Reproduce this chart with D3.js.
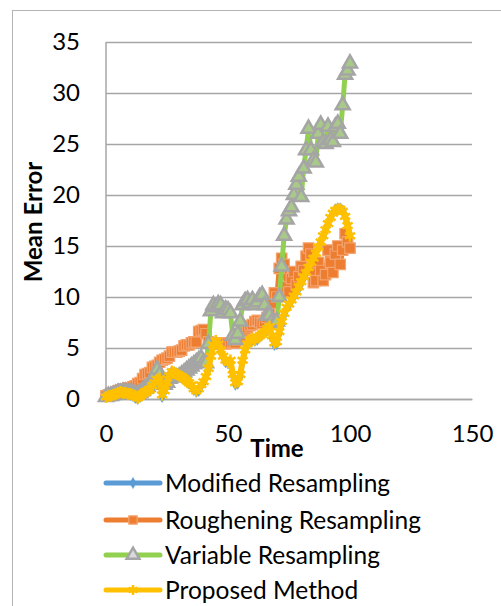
<!DOCTYPE html>
<html>
<head>
<meta charset="utf-8">
<script src="https://cdn.jsdelivr.net/npm/d3@7"></script>
<style>
  html, body { margin: 0; padding: 0; background: #fff; }
  svg { display: block; }
  text { font-family: Lato, "Open Sans", sans-serif; fill: #000; }
</style>
</head>
<body>
<svg id="chart" width="501" height="606"></svg>
<script>
// Sampling instants (time steps 0..100)
const time = d3.range(0, 101);

const seriesNames = ["Modified Resampling", "Roughening Resampling", "Variable Resampling", "Proposed Method"];

const modifiedResampling = [
  0.2,0.3,0.3,0.4,0.5,0.5,0.6,0.6,0.5,0.5,0.4,
  0.3,0.1,0.0,0.2,0.4,0.6,0.7,0.8,1.2,1.5,
  1.8,1.9,0.2,0.7,1.5,2.2,2.6,2.5,2.3,2.2,
  2.1,1.9,1.7,1.5,1.3,0.9,0.7,0.8,1.3,1.6,
  2.1,2.9,4.1,5.2,5.6,5.3,4.6,4.1,3.6,3.5,
  3.6,2.3,1.4,1.5,2.2,3.6,4.7,5.3,5.6,5.8,
  5.7,5.8,6.1,6.3,6.5,6.7,7.0,6.0,5.3,5.4,
  6.4,7.4,8.2,8.8,9.2,9.6,10.0,10.4,10.8,11.3,
  11.8,12.3,12.8,13.3,13.7,14.2,14.8,15.3,15.9,16.5,
  17.1,17.7,18.2,18.6,18.7,18.7,18.5,18.0,17.1,16.1
];

const rougheningResampling = [
  0.3,0.4,0.5,0.6,0.7,0.8,0.9,1.0,1.0,1.1,1.1,
  1.2,1.3,1.5,1.6,2.0,2.4,2.5,2.6,3.1,3.2,
  3.3,3.6,3.8,3.9,4.0,4.2,4.6,4.6,4.6,4.7,
  4.8,5.2,5.3,5.3,5.5,5.6,5.6,6.6,6.7,6.8,
  6.4,5.6,5.4,5.5,5.5,5.4,5.5,5.5,5.4,5.5,
  5.5,5.6,5.5,5.8,6.2,6.6,6.8,7.0,7.2,7.3,
  7.6,7.7,7.5,7.4,7.6,8.0,8.4,9.4,10.4,10.0,
  12.8,13.8,13.2,11.0,10.5,11.8,12.5,11.2,12.0,13.0,
  12.6,14.0,14.8,14.2,11.4,11.6,13.4,12.6,11.6,12.2,
  14.6,13.4,12.4,14.2,15.0,13.2,14.6,16.2,15.4,14.8
];

const variableResampling = [
  0.2,0.3,0.3,0.4,0.5,0.6,0.6,0.7,0.7,0.6,0.6,
  0.5,0.5,0.5,0.6,0.8,1.0,1.2,1.5,1.8,2.4,
  2.9,2.4,1.8,1.4,1.6,2.0,2.3,2.2,2.1,2.2,
  2.4,2.6,2.8,3.0,3.2,3.4,3.6,3.8,4.0,3.6,
  3.5,5.4,8.6,9.2,9.0,9.3,9.2,8.4,8.8,8.7,
  8.4,6.2,5.8,6.4,7.6,9.2,9.6,9.7,9.4,9.7,
  9.2,9.5,10.0,10.2,9.2,8.2,8.2,7.6,7.4,7.6,
  10.0,13.0,16.0,17.6,18.4,18.8,20.0,21.0,21.8,19.8,
  22.6,24.4,26.5,24.4,23.4,23.2,26.0,26.9,25.2,25.0,
  26.7,25.4,25.2,26.7,27.0,26.0,28.8,31.8,32.2,32.9
];

const proposedMethod = [
  0.2,0.3,0.3,0.4,0.5,0.6,0.7,0.6,0.6,0.5,0.5,
  0.4,0.3,0.1,0.3,0.5,0.7,0.8,0.9,1.3,1.6,
  1.9,2.0,0.4,0.8,1.6,2.3,2.7,2.6,2.4,2.3,
  2.2,2.0,1.8,1.6,1.4,1.0,0.8,1.0,1.4,1.7,
  2.2,3.0,4.2,5.3,5.7,5.4,4.8,4.2,3.8,3.6,
  3.8,2.4,1.6,1.7,2.4,3.8,4.8,5.4,5.8,5.9,
  5.8,6.0,6.2,6.4,6.6,6.9,7.1,6.2,5.5,5.6,
  6.6,7.6,8.4,9.0,9.3,9.7,10.1,10.5,11.0,11.5,
  12.0,12.4,12.9,13.4,13.8,14.3,14.9,15.4,16.0,16.6,
  17.2,17.8,18.2,18.5,18.6,18.6,18.4,17.9,17.0,16.0
];

const xTicks = [0, 50, 100, 150];
const yTicks = [0, 5, 10, 15, 20, 25, 30, 35];
const xTitle = "Time";
const yTitle = "Mean Error";

const svg = d3.select("#chart");

// Chart area frame
svg.append("rect")
  .attr("x", 12.5).attr("y", 10.5)
  .attr("width", 520).attr("height", 620)
  .attr("fill", "#fff").attr("stroke", "#b3b3b3").attr("stroke-width", 1);

const x = d3.scaleLinear().domain([0, 150]).range([106, 472]);
const y = d3.scaleLinear().domain([0, 35]).range([399, 42]);

// Horizontal gridlines + value labels
const yAxis = svg.append("g")
  .attr("transform", `translate(${x(0)},0)`)
  .call(d3.axisLeft(y).tickValues(yTicks).tickSize(-(x(150) - x(0))).tickPadding(26).tickFormat(d3.format("d")));
yAxis.select(".domain").attr("stroke", "#a6a6a6").attr("stroke-width", 1.5).attr("d", `M0,${y(35)}V${y(0)}`);
yAxis.selectAll(".tick line").attr("stroke", "#a6a6a6").attr("stroke-width", 1.5);
yAxis.selectAll(".tick text").attr("font-size", 24).attr("font-family", "Lato");

// Time labels
const xAxis = svg.append("g")
  .attr("transform", `translate(0,${y(0)})`)
  .call(d3.axisBottom(x).tickValues(xTicks).tickSize(0).tickPadding(26).tickFormat(d3.format("d")));
xAxis.select(".domain").attr("stroke", "#a6a6a6").attr("stroke-width", 1.5);
xAxis.selectAll(".tick text").attr("font-size", 24).attr("font-family", "Lato");

// Axis titles
svg.append("text")
  .attr("x", 277).attr("y", 457)
  .attr("text-anchor", "middle")
  .attr("font-size", 24).attr("font-weight", "bold")
  .text(xTitle);

svg.append("text")
  .attr("transform", "translate(42,222) rotate(-90)")
  .attr("text-anchor", "middle")
  .attr("font-size", 24).attr("font-weight", "bold")
  .text(yTitle);

const asterisk = d3.symbolAsterisk || d3.symbolCross;

const styles = [
  { values: modifiedResampling,   line: "#5B9BD5", width: 5, symbol: d3.symbolDiamond,  size: 36,  fill: "#5B9BD5", stroke: "#5B9BD5", sw: 0.5 },
  { values: rougheningResampling, line: "#ED7D31", width: 5, symbol: d3.symbolSquare,   size: 110, fill: "#ED7D31", stroke: "#F4A46E", sw: 1.2 },
  { values: variableResampling,   line: "#92D050", width: 5, symbol: d3.symbolTriangle, size: 85,  fill: "#A9C98A", stroke: "#A5A5A5", sw: 2.5 },
  { values: proposedMethod,       line: "#FFC000", width: 6, symbol: asterisk,          size: 95,  fill: "none",    stroke: "#FFC000", sw: 2.5 }
];

const line = d3.line().x((d, i) => x(time[i])).y(d => y(d));

styles.forEach((s, k) => {
  const g = svg.append("g").attr("class", "series s" + k);
  g.append("path")
    .attr("d", line(s.values))
    .attr("fill", "none")
    .attr("stroke", s.line)
    .attr("stroke-width", s.width)
    .attr("stroke-linejoin", "round")
    .attr("stroke-linecap", "round");
  g.selectAll("path.m")
    .data(s.values)
    .join("path")
    .attr("class", "m")
    .attr("transform", (d, i) => `translate(${x(time[i])},${y(d)})`)
    .attr("d", d3.symbol().type(s.symbol).size(s.size))
    .attr("fill", s.fill)
    .attr("stroke", s.stroke)
    .attr("stroke-width", s.sw);
});

// Legend
const legend = svg.append("g");
const legendRows = [483, 520, 555, 590];
styles.forEach((s, k) => {
  const row = legend.append("g").attr("transform", `translate(0,${legendRows[k]})`);
  row.append("line")
    .attr("x1", 106).attr("x2", 160).attr("y1", 0).attr("y2", 0)
    .attr("stroke", s.line).attr("stroke-width", 5).attr("stroke-linecap", "round");
  row.append("path")
    .attr("transform", "translate(133,0)")
    .attr("d", d3.symbol().type(s.symbol).size(Math.min(s.size, 70)))
    .attr("fill", k === 2 ? "#d9d9d9" : s.fill)
    .attr("stroke", s.stroke)
    .attr("stroke-width", s.sw);
  row.append("text")
    .attr("x", 165).attr("y", 0).attr("dy", "0.36em")
    .attr("font-size", 24.5)
    .text(seriesNames[k]);
});
</script>
</body>
</html>
